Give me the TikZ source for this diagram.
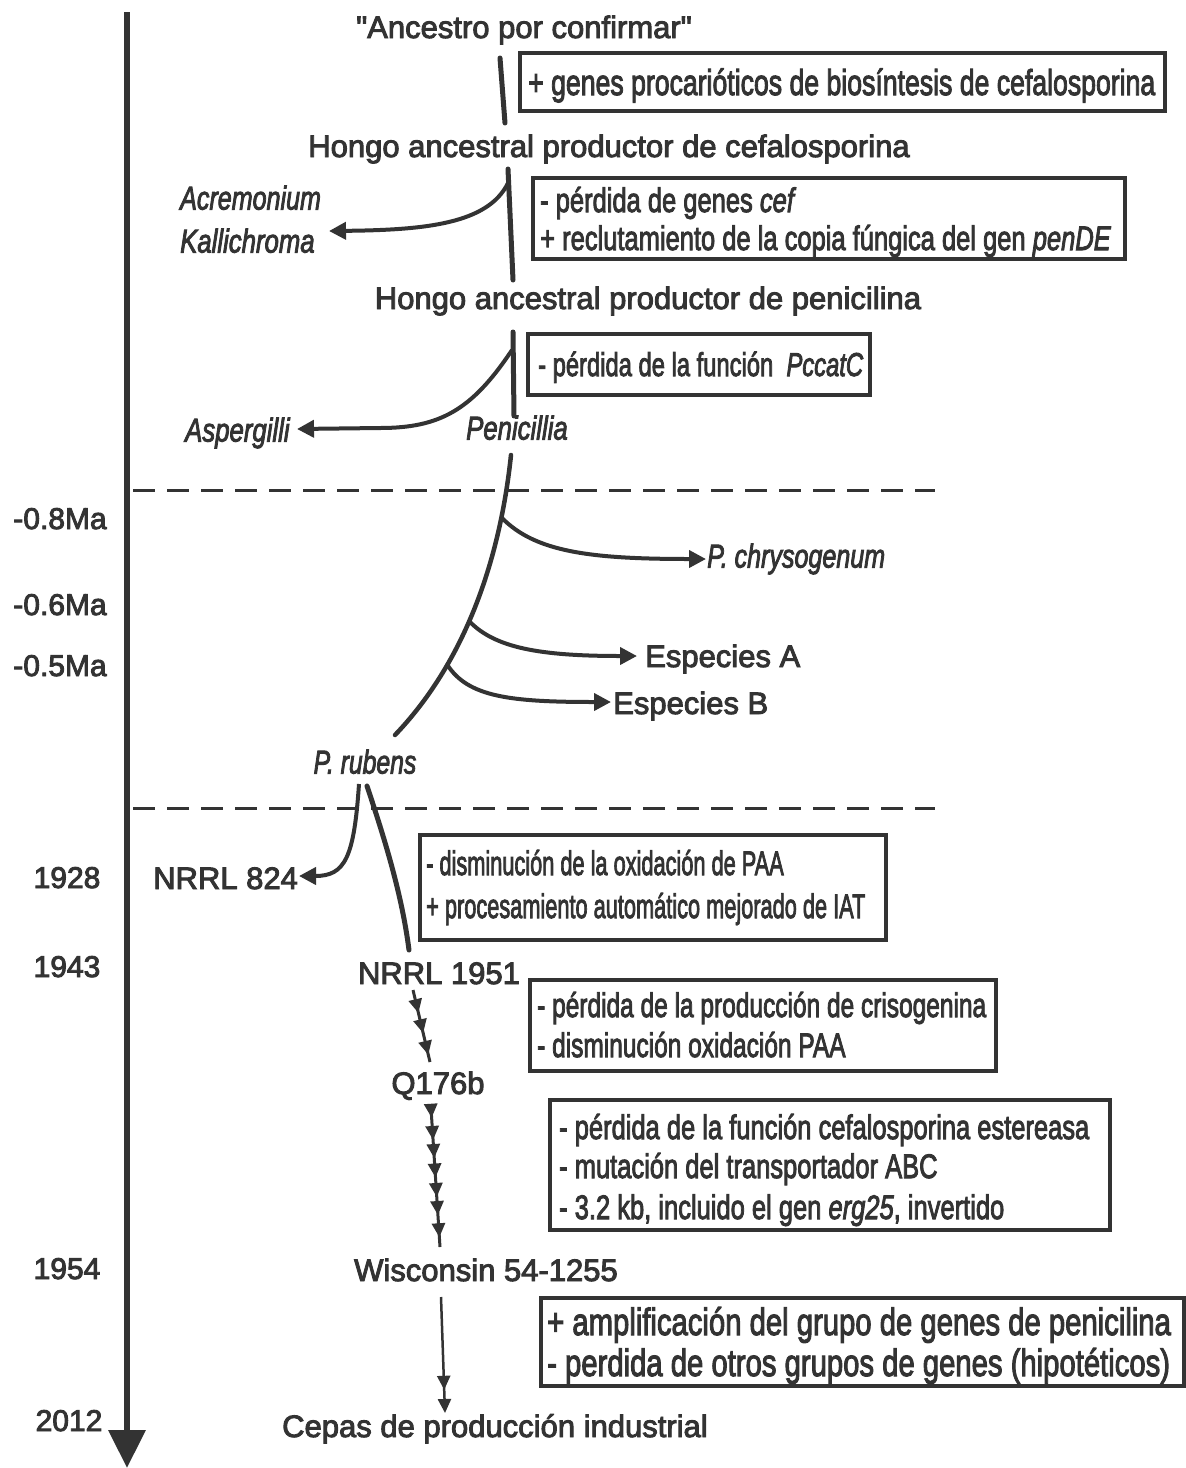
\documentclass[tikz,border=0pt]{standalone}
\usepackage{fontspec}
\setmainfont{Liberation Sans}[FakeBold=3]
\usepackage{graphicx}
\usetikzlibrary{arrows.meta,decorations.markings}
\definecolor{ink}{HTML}{333333}
\newcommand{\sx}[2]{\scalebox{#1}[1]{#2}}
\newcommand{\dq}{\XeTeXglyph\XeTeXcharglyph"22\relax}
\tikzset{chainhead/.tip={Triangle[length=14pt,width=13pt]}}
\begin{document}
\begin{tikzpicture}[x=1pt,y=-1pt,
  every node/.style={text=ink, inner sep=0pt},
  lbl/.style={font=\fontsize{31}{34}\selectfont, anchor=base},
  itl/.style={font=\fontsize{33}{36}\selectfont\itshape, anchor=base west},
  yr/.style={font=\fontsize{30}{33}\selectfont, anchor=base},
  bt/.style={font=\fontsize{#1}{#1}\selectfont, anchor=base west},
  boxst/.style={draw=ink, line width=4pt},
  trunk/.style={draw=ink, line width=5pt, line cap=round},
  branch/.style={draw=ink, line width=4pt, -{Triangle[length=17pt,width=17pt]}},
  dashln/.style={draw=ink, line width=3pt, dash pattern=on 22pt off 12pt},
  chain/.style={draw=ink, line width=3pt, postaction={decorate}}
]
\useasboundingbox (0,0) rectangle (1186,1468);

% timeline
\coordinate (tltop) at (127,12);
\coordinate (tlbot) at (127,1468);
\draw[ink, line width=6.5pt, -{Triangle[length=38pt,width=36pt]}] (tltop) -- (tlbot);

% dashed separators
\coordinate (d1a) at (133,490); \coordinate (d1b) at (935,490);
\coordinate (d2a) at (133,808); \coordinate (d2b) at (935,808);
\draw[dashln] (d1a) -- (d1b);
\draw[dashln] (d2a) -- (d2b);

% years
\node[yr] (y08) at (60,529) {-0.8Ma};
\node[yr] (y06) at (60,615) {-0.6Ma};
\node[yr] (y05) at (60,676) {-0.5Ma};
\node[yr] (y28) at (67,888) {1928};
\node[yr] (y43) at (67,977) {1943};
\node[yr] (y54) at (67,1279) {1954};
\node[yr] (y12) at (69,1431) {2012};

% main labels
\node[lbl] (anc) at (524,38) {\dq Ancestro por confirmar\dq};
\node[lbl] (hcef) at (609,157) {Hongo ancestral productor de cefalosporina};
\node[lbl] (hpen) at (648,309) {Hongo ancestral productor de penicilina};
\node[itl] (acr) at (180,209.5) {\sx{0.76}{Acremonium}};
\node[itl] (kal) at (180,252.5) {\sx{0.78}{Kallichroma}};
\node[itl] (asp) at (185,441.5) {\sx{0.78}{Aspergilli}};
\node[itl, anchor=base] (pen) at (517,439.5) {\sx{0.78}{Penicillia}};
\node[itl] (pch) at (707,567.5) {\sx{0.76}{P. chrysogenum}};
\node[lbl, anchor=base west] (spa) at (645,667) {Especies A};
\node[lbl, anchor=base west] (spb) at (613,714) {Especies B};
\node[itl, anchor=base] (rub) at (365,773.5) {\sx{0.75}{P. rubens}};
\node[lbl, anchor=base west] (n824) at (153,889) {NRRL 824};
\node[lbl] (n1951) at (439,984) {NRRL 1951};
\node[lbl] (q176) at (438,1094) {Q176b};
\node[lbl] (wis) at (486,1281) {Wisconsin 54-1255};
\node[lbl] (cep) at (495,1437) {Cepas de producción industrial};

% boxes
\node[boxst, minimum width=645pt, minimum height=58pt] (box1) at (842.5,82) {};
\node[bt=36] (b1a) at (528,95) {\sx{0.74}{+ genes procarióticos de biosíntesis de cefalosporina}};

\node[boxst, minimum width=592pt, minimum height=81pt] (box2) at (829,218.5) {};
\node[bt=34] (b2a) at (540,212) {\sx{0.75}{- pérdida de genes \textit{cef}}};
\node[bt=34] (b2b) at (540,250) {\sx{0.75}{+ reclutamiento de la copia fúngica del gen \textit{penDE}}};

\node[boxst, minimum width=342pt, minimum height=61pt] (box3) at (699,364.5) {};
\node[bt=33] (b3a) at (538,376) {\sx{0.72}{- pérdida de la función\ \ \textit{PccatC}}};

\node[boxst, minimum width=466pt, minimum height=105pt] (box4) at (653,887.5) {};
\node[bt=34] (b4a) at (426,875) {\sx{0.64}{- disminución de la oxidación de PAA}};
\node[bt=34] (b4b) at (426,918) {\sx{0.64}{+ procesamiento automático mejorado de IAT}};

\node[boxst, minimum width=466pt, minimum height=91pt] (box5) at (763,1025.5) {};
\node[bt=34] (b5a) at (537,1017) {\sx{0.72}{- pérdida de la producción de crisogenina}};
\node[bt=34] (b5b) at (537,1057) {\sx{0.72}{- disminución oxidación PAA}};

\node[boxst, minimum width=560pt, minimum height=130pt] (box6) at (830,1165) {};
\node[bt=34] (b6a) at (559,1139) {\sx{0.75}{- pérdida de la función cefalosporina estereasa}};
\node[bt=34] (b6b) at (559,1178) {\sx{0.75}{- mutación del transportador ABC}};
\node[bt=34] (b6c) at (559,1219) {\sx{0.75}{- 3.2 kb, incluido el gen \textit{erg25}, invertido}};

\node[boxst, minimum width=643pt, minimum height=88pt] (box7) at (862.5,1342) {};
\node[bt=38] (b7a) at (547,1335) {\sx{0.77}{+ amplificación del grupo de genes de penicilina}};
\node[bt=38] (b7b) at (547,1376) {\sx{0.77}{- perdida de otros grupos de genes (hipotéticos)}};

% tree trunks
\coordinate (t1a) at (500,58); \coordinate (t1b) at (505,123);
\draw[trunk] (t1a) -- (t1b);
\coordinate (t2a) at (508,169); \coordinate (t2b) at (513,280);
\draw[trunk] (t2a) -- (t2b);
\coordinate (acr0) at (508,183); \coordinate (acrtip) at (329,231);
\draw[branch] (acr0) .. controls (488,224) and (425,230) .. (acrtip);

\coordinate (t3a) at (513,332); \coordinate (t3b) at (514,416);
\draw[trunk] (t3a) -- (t3b);
\coordinate (asp0) at (512,350); \coordinate (asptip) at (297,429);
\draw[branch] (asp0) .. controls (472,410) and (440,428) .. (380,428) -- (asptip);

% main Penicillium curve
\coordinate (m0) at (511,455); \coordinate (m1) at (395,735);
\draw[trunk, line width=4.5pt] (m0) .. controls (500,560) and (465,662) .. (m1)
  coordinate[pos=0.2] (bp1) coordinate[pos=0.55] (bp2) coordinate[pos=0.71] (bp3);
\coordinate (chtip) at (706,559);
\coordinate (eatip) at (637,656);
\coordinate (ebtip) at (611,702);
\draw[branch] (bp1) .. controls (535,552) and (590,559) .. (chtip);
\draw[branch] (bp2) .. controls (495,648) and (540,656) .. (eatip);
\draw[branch] (bp3) .. controls (468,697) and (510,702) .. (ebtip);

% P. rubens split
\coordinate (r0) at (359,784); \coordinate (nrtip) at (299,876);
\draw[branch] (r0) .. controls (354,858) and (345,876) .. (nrtip);
\coordinate (r1) at (367,786); \coordinate (r2) at (409,950);
\draw[trunk] (r1) .. controls (385,840) and (402,895) .. (r2);

% chains of arrows
\coordinate (c1a) at (413,990); \coordinate (c1b) at (430,1062);
\draw[chain, decoration={markings,
   mark=at position 0.32 with {\arrow{chainhead}},
   mark=at position 0.60 with {\arrow{chainhead}},
   mark=at position 0.90 with {\arrow{chainhead}}}] (c1a) -- (c1b);
\coordinate (c2a) at (431,1108); \coordinate (c2b) at (440,1247);
\draw[chain, decoration={markings,
   mark=at position 0.07 with {\arrow{chainhead}},
   mark=at position 0.23 with {\arrow{chainhead}},
   mark=at position 0.36 with {\arrow{chainhead}},
   mark=at position 0.50 with {\arrow{chainhead}},
   mark=at position 0.64 with {\arrow{chainhead}},
   mark=at position 0.77 with {\arrow{chainhead}},
   mark=at position 0.93 with {\arrow{chainhead}}}] (c2a) -- (c2b);
\coordinate (c3a) at (441,1297); \coordinate (c3b) at (445,1413);
\draw[chain, line width=2.5pt, -{chainhead}, decoration={markings,
   mark=at position 0.80 with {\arrow{chainhead}}}] (c3a) -- (c3b);
\end{tikzpicture}
\end{document}
